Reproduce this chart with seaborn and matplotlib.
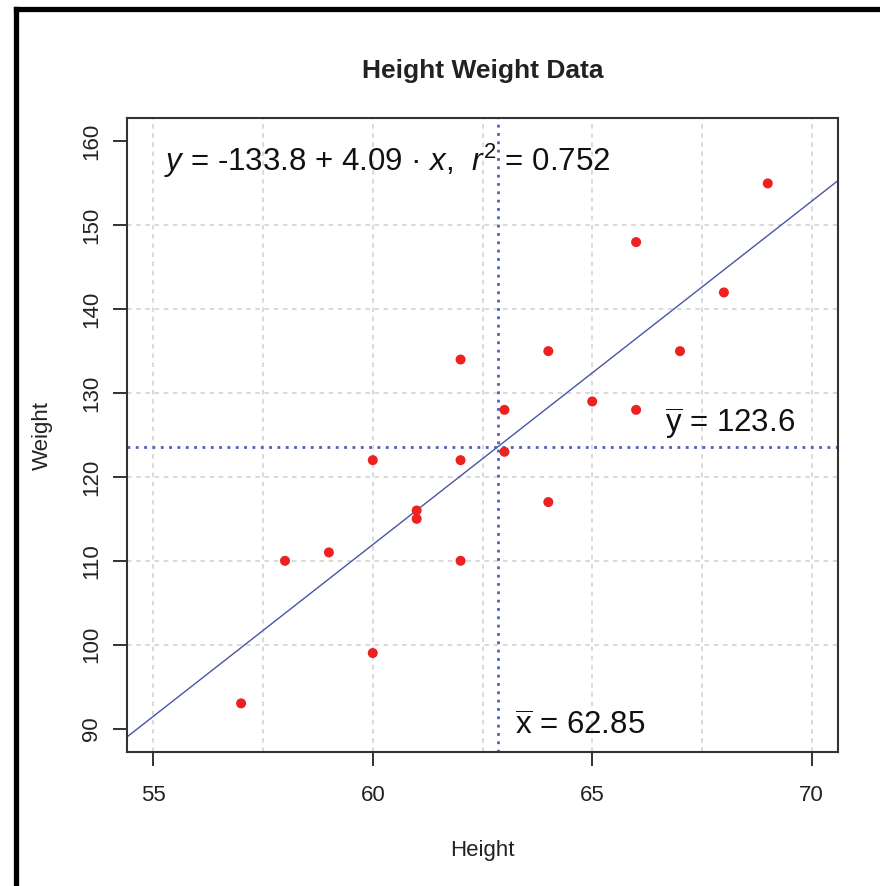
import numpy as np
import pandas as pd
import matplotlib
matplotlib.use("Agg")
import matplotlib.pyplot as plt
from matplotlib.lines import Line2D
import seaborn as sns

# ---- data ----
height = [57, 58, 59, 60, 60, 61, 61, 62, 62, 62, 63, 63, 64, 64, 65, 66, 66, 67, 68, 69]
weight = [93, 110, 111, 122, 99, 116, 115, 134, 122, 110, 128, 123, 135, 117, 129, 148, 128, 135, 142, 155]
x_ticks = [55, 60, 65, 70]
y_ticks = [90, 100, 110, 120, 130, 140, 150, 160]
title = "Height Weight Data"
x_label = "Height"
y_label = "Weight"

df = pd.DataFrame({"Height": height, "Weight": weight})
xbar = df["Height"].mean()
ybar = df["Weight"].mean()
slope, intercept = np.polyfit(df["Height"], df["Weight"], 1)
r2 = np.corrcoef(df["Height"], df["Weight"])[0, 1] ** 2

sns.set_style("white")
plt.rcParams["font.family"] = ["Liberation Sans", "DejaVu Sans"]
plt.rcParams["mathtext.fontset"] = "custom"
plt.rcParams["mathtext.rm"] = "Liberation Sans"
plt.rcParams["mathtext.it"] = "Liberation Sans:italic"
plt.rcParams["mathtext.bf"] = "Liberation Sans:bold"

fig = plt.figure(figsize=(8.8, 8.86), dpi=100)
ax = fig.add_axes([127 / 880, 1 - 752 / 886, (838 - 127) / 880, (752 - 118) / 886])

ax.set_xlim(54.4, 70.6)
ax.set_ylim(87.2, 162.8)

# grid
for v in np.arange(55, 70.1, 2.5):
    ax.axvline(v, color="#d0d0d0", lw=1.1, ls=(0, (3, 3)), zorder=0)
for h in range(100, 151, 10):
    ax.axhline(h, color="#d0d0d0", lw=1.1, ls=(0, (3, 3)), zorder=0)

sns.regplot(data=df, x="Height", y="Weight", ax=ax, scatter=False, ci=None,
            truncate=False, line_kws=dict(color="#4656a8", lw=1.0, zorder=2))
sns.scatterplot(data=df, x="Height", y="Weight", ax=ax, color="#ee2020",
                s=52, edgecolor="none", zorder=3)

ax.axvline(xbar, color="#4d5fc0", lw=2.0, ls=(0, (1, 2)), zorder=2)
ax.axhline(ybar, color="#4d5fc0", lw=2.0, ls=(0, (1, 2)), zorder=2)

ax.set_xticks(x_ticks)
ax.set_yticks(y_ticks)
ax.set_xticklabels([str(t) for t in x_ticks])
ax.set_yticklabels([str(t) for t in y_ticks], rotation=90, va="center")
ax.tick_params(axis="both", which="major", length=10, width=1.4, color="#333333",
               labelsize=16, labelcolor="#222222", left=True, bottom=True)
ax.tick_params(axis="x", pad=14)
ax.tick_params(axis="y", pad=8)
for sp in ax.spines.values():
    sp.set_color("#333333")
    sp.set_linewidth(1.5)

ax.set_xlabel(x_label, fontsize=16, color="#222222", labelpad=24)
ax.set_ylabel(y_label, fontsize=16, color="#222222", labelpad=20)
ax.set_title(title, fontsize=19, fontweight="bold", color="#222222", pad=29)

eq = "$y$ = %.1f + %.2f · $x$,  $r^2$ = %.3f" % (intercept, slope, r2)
ax.text(55.25, 157.7, eq, fontsize=22.5, color="#111111", ha="left", va="center")
ax.text(66.65, 126.3, r"$\overline{\mathrm{y}}$" + " = %.1f" % ybar, fontsize=22.5,
        color="#111111", ha="left", va="center")
ax.text(63.23, 90.2, r"$\overline{\mathrm{x}}$" + " = %.2f" % xbar, fontsize=22.5,
        color="#111111", ha="left", va="center")

# outer frame (left and top black border)
fig.add_artist(Line2D([15.5 / 880, 15.5 / 880], [0, 1 - 8.5 / 886], color="black",
                      lw=3.8, solid_capstyle="projecting"))
fig.add_artist(Line2D([15.5 / 880, 1], [1 - 8.5 / 886, 1 - 8.5 / 886], color="black",
                      lw=3.8, solid_capstyle="projecting"))

fig.savefig("out.png", dpi=100)
